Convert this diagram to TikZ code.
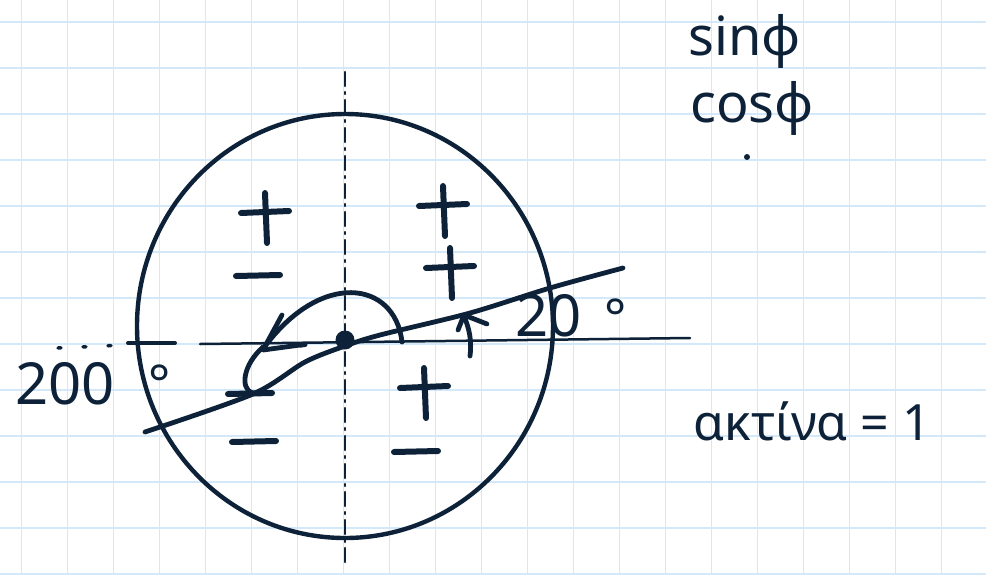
\documentclass[tikz,border=0pt]{standalone}
\usepackage{fontspec}
\setmainfont{Noto Sans}
\usetikzlibrary{arrows.meta}
\definecolor{inkNavy}{HTML}{0D2238}
\definecolor{gridBlue}{HTML}{D3E9FA}
\tikzset{
  gridln/.style  = {draw=gridBlue, line width=1.5pt},
  ink/.style     = {draw=inkNavy, line width=4.8pt, line cap=round, line join=round},
  inkthin/.style = {draw=inkNavy, line width=2.5pt, line cap=round},
  sign/.style    = {draw=inkNavy, line width=6pt, line cap=round},
  hand/.style    = {text=inkNavy, inner sep=0pt, anchor=base west},
}
\begin{document}
\begin{tikzpicture}[x=1pt, y=-1pt]
  \fill[white] (0,0) rectangle (986,574);
  \useasboundingbox (0,0) rectangle (986,574);
  % squared paper
  \foreach \k in {0,...,20}
    \draw[gridln] (21.7+46*\k,0) -- (21.7+46*\k,574);
  \foreach \k in {0,...,12}
    \draw[gridln] (0,22+46*\k) -- (986,22+46*\k);

  % axes
  \draw[inkthin, dash pattern=on 14pt off 6pt on 2pt off 6pt] (345,72) -- (345,565);
  \draw[inkthin, line width=3.5pt, dash pattern=on 3pt off 22pt] (58,348) -- (125,345);
  \draw[inkthin, line width=4pt] (128,343) -- (175,343);
  \draw[inkthin] (200,344) -- (690,338);

  % unit circle
  \draw[ink, line width=4.4pt] (345,326) ellipse [x radius=208, y radius=212];
  \fill[inkNavy] (345,340) circle [radius=9.5];

  % terminal side
  \draw[ink] plot[smooth] coordinates {(145,432) (253,394) (305,362) (345,346)
    (380,335) (470,313) (550,288) (623,268)};

  % angle arrows
  \draw[ink] (402,342) .. controls (395,280) and (320,270) .. (263,349);
  \draw[ink] (282,315) -- (263,350) -- (300,345);
  \draw[ink] (263,347) .. controls (243,365) and (240,388) .. (252,393);
  \draw[ink, line width=3.5pt] (300,346) -- (306,345);
  \draw[ink] (470,356) .. controls (472,340) and (469,328) .. (464,316);
  \draw[ink] (458,330) -- (464,315) -- (487,324);

  % signs per quadrant
  \foreach \px/\py in {265/213, 443/206, 450/268, 424/388}
    \draw[sign] (\px-24,\py) -- (\px+24,\py-2) (\px,\py-20) -- (\px+2,\py+30);
  \foreach \mx/\my in {258/276, 250/394, 254/442, 416/452}
    \draw[sign] (\mx-22,\my) -- (\mx+22,\my-1);

  % labels
  \node[hand, font=\fontsize{54}{60}\selectfont] (sinL) at (688,55) {sinφ};
  \node[hand, font=\fontsize{54}{60}\selectfont] (cosL) at (690,122) {cosφ};
  \fill[inkNavy] (747,157) circle [radius=3];
  \node[hand, font=\fontsize{58}{64}\selectfont] (bigAng) at (15,404) {200};
  \node[hand, font=\fontsize{52}{58}\selectfont] (bigDeg) at (148,402) {°};
  \node[hand, font=\fontsize{58}{64}\selectfont] (smAng) at (515,336) {20};
  \node[hand, font=\fontsize{52}{58}\selectfont] (smDeg) at (604,336) {°};
  \node[hand, font=\fontsize{50}{56}\selectfont] (radL) at (693,440) {ακτίνα = 1};
\end{tikzpicture}
\end{document}
